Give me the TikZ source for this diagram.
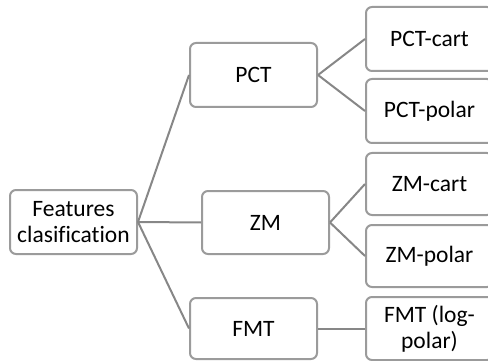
\documentclass[tikz,border=0pt]{standalone}
\usepackage{fontspec}
\setmainfont{Carlito}[Ligatures=CommonOff]
\definecolor{boxline}{RGB}{155,155,155}
\definecolor{conline}{RGB}{135,135,135}
\tikzset{
  box/.style={draw=boxline, line width=2pt, rounded corners=6pt, fill=white,
    inner sep=0pt, minimum width=127pt, align=center,
    font=\fontsize{23.5}{26}\selectfont},
  con/.style={draw=conline, line width=2pt}
}
\begin{document}
\begin{tikzpicture}[x=1pt,y=-1pt]
\useasboundingbox (0,0) rectangle (488,361);
\clip (0,0) rectangle (488,361);
\node[box, minimum height=64pt] (feat) at (73.5,222) {Features\\clasification};
\node[box, minimum height=64pt] (pct) at (253.5,75) {PCT};
\node[box, minimum height=63pt] (zm) at (265.5,222.5) {ZM};
\node[box, minimum height=61pt] (fmt) at (253.5,328.5) {FMT};
\node[box, minimum height=64pt] (pctc) at (429.5,39) {PCT-cart};
\node[box, minimum height=64pt] (pctp) at (429.5,111) {PCT-polar};
\node[box, minimum height=62pt] (zmc) at (429.5,184) {ZM-cart};
\node[box, minimum height=62pt] (zmp) at (429.5,256) {ZM-polar};
\node[box, minimum height=63pt] (fmtl) at (429.5,328.5) {FMT (log-\\polar)};
\draw[con] (feat.east) -- (pct.west);
\draw[con] (feat.east) -- (zm.west);
\draw[con] (feat.east) -- (fmt.west);
\draw[con] (pct.east) -- (pctc.west);
\draw[con] (pct.east) -- (pctp.west);
\draw[con] (zm.east) -- (zmc.west);
\draw[con] (zm.east) -- (zmp.west);
\draw[con] (fmt.east) -- (fmtl.west);
\end{tikzpicture}
\end{document}
